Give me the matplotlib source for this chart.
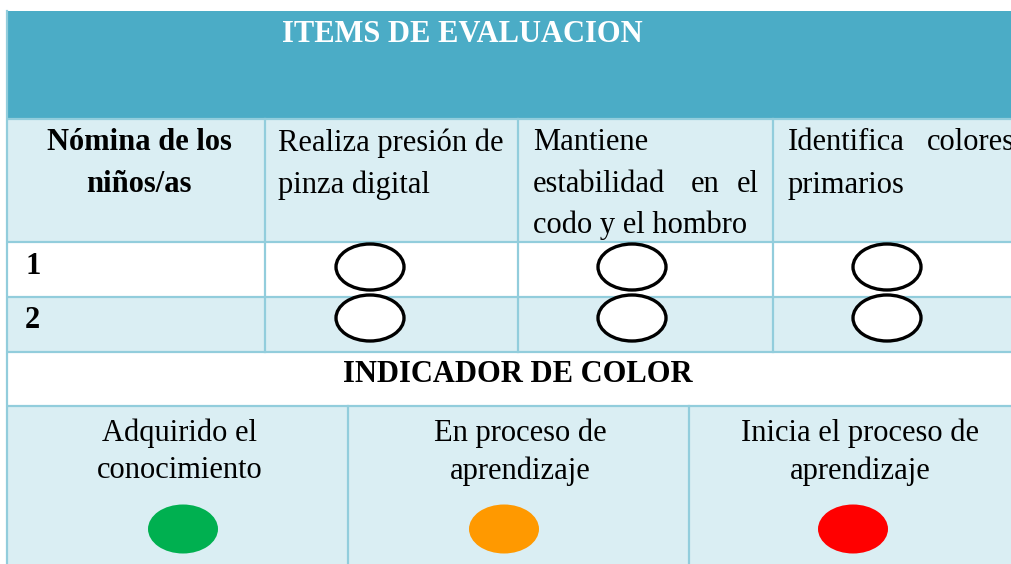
import matplotlib
matplotlib.use("Agg")
import matplotlib.pyplot as plt
from matplotlib.patches import Rectangle, Ellipse

# ---- content ----
title = "ITEMS DE EVALUACION"
col_header_first = ["Nómina de los", "niños/as"]
item_headers = [
    ["Realiza presión de", "pinza digital"],
    ["Mantiene", "estabilidad en el", "codo y el hombro"],
    ["Identifica colores", "primarios"],
]
row_labels = ["1", "2"]
indicator_title = "INDICADOR DE COLOR"
indicator_labels = [["Adquirido el", "conocimiento"],
                    ["En proceso de", "aprendizaje"],
                    ["Inicia el proceso de", "aprendizaje"]]
indicator_colors = ["#00B050", "#FF9900", "#FF0000"]

# ---- layout (pixel space) ----
W, H = 1011, 564
x_left = 7
col_edges = [7, 265, 518, 773, 1030]
ind_edges = [7, 348, 689, 1030]
y_top = 11
y_head_band = 119
y_head_row = 242
y_row1 = 297
y_row2 = 352
y_ind = 406

header_blue = "#4BACC6"
light = "#DAEEF3"
border = "#92CDDC"
FS = 22
serif = ["Liberation Serif", "DejaVu Serif"]

fig = plt.figure(figsize=(W / 100, H / 100), dpi=100)
ax = fig.add_axes([0, 0, 1, 1])
ax.set_xlim(0, W)
ax.set_ylim(H, 0)
ax.axis("off")

def rect(x0, y0, x1, y1, fc):
    ax.add_patch(Rectangle((x0, y0), x1 - x0, y1 - y0, facecolor=fc,
                           edgecolor="none", zorder=1))

# backgrounds
rect(x_left, y_top, 1030, y_head_band, header_blue)
rect(x_left, y_head_band, 1030, y_head_row, light)
rect(x_left, y_head_row, 1030, y_row1, "white")
rect(x_left, y_row1, 1030, y_row2, light)
rect(x_left, y_row2, 1030, y_ind, "white")
rect(x_left, y_ind, 1030, H + 5, light)

lw = 1.6
for y in [y_head_band, y_head_row, y_row1, y_row2, y_ind]:
    ax.plot([x_left, 1030], [y, y], color=border, lw=lw, zorder=2,
            solid_capstyle="butt")
ax.plot([x_left, x_left], [y_top, H + 5], color=border, lw=lw, zorder=2)
for x in col_edges[1:-1]:
    ax.plot([x, x], [y_head_band, y_row2], color=border, lw=lw, zorder=2)
for x in ind_edges[1:-1]:
    ax.plot([x, x], [y_ind, H + 5], color=border, lw=lw, zorder=2)

dy = 3  # vertical nudge for text

# title
ax.text(462, 32 + dy, title, color="white", fontsize=FS, fontweight="bold",
        family=serif, ha="center", va="center", zorder=3)

# header row
line_y = [140 + dy, 182 + dy, 222 + dy]
cx0 = (col_edges[0] + col_edges[1]) / 2 + 3
for i, t in enumerate(col_header_first):
    ax.text(cx0, line_y[i], t, fontsize=FS, fontweight="bold", family=serif,
            ha="center", va="center", zorder=3)

text_left = [278, 533, 788]
for c, lines in enumerate(item_headers):
    x0 = text_left[c]
    for i, t in enumerate(lines):
        words = t.split(" ")
        justify = (c == 1 and i == 1) or (c == 2 and i == 0)
        if justify:
            ax.text(x0, line_y[i], words[0], fontsize=FS, family=serif,
                    ha="left", va="center", zorder=3)
            if c == 1:
                ax.text(705, line_y[i], words[1], fontsize=FS, family=serif,
                        ha="center", va="center", zorder=3)
                ax.text(759, line_y[i], words[2], fontsize=FS, family=serif,
                        ha="right", va="center", zorder=3)
            else:
                ax.text(927, line_y[i], words[1], fontsize=FS, family=serif,
                        ha="left", va="center", zorder=3)
        else:
            ax.text(x0, line_y[i], t, fontsize=FS, family=serif,
                    ha="left", va="center", zorder=3)

# data rows
row_centers = [267, 318]
circle_cx = [370, 632, 887]
for r, lab in enumerate(row_labels):
    ax.text(25, [263, 318][r] + dy, lab, fontsize=FS, fontweight="bold",
            family=serif, ha="left", va="center", zorder=3)
    for cx in circle_cx:
        ax.add_patch(Ellipse((cx, row_centers[r]), 68, 46, facecolor="white",
                             edgecolor="black", lw=2.4, zorder=4))

# indicator title
ax.text(518, 372 + dy, indicator_title, fontsize=FS, fontweight="bold",
        family=serif, ha="center", va="center", zorder=3)

ind_cx = [180, 520, 860]
dot_cx = [183, 504, 853]
for k, lines in enumerate(indicator_labels):
    for i, t in enumerate(lines):
        ax.text(ind_cx[k], [430 + dy, 468 + dy][i], t, fontsize=FS,
                family=serif, ha="center", va="center", zorder=3)
    ax.add_patch(Ellipse((dot_cx[k], 529), 70, 49,
                         facecolor=indicator_colors[k], edgecolor="none",
                         zorder=4))

fig.savefig("out.png", dpi=100)
